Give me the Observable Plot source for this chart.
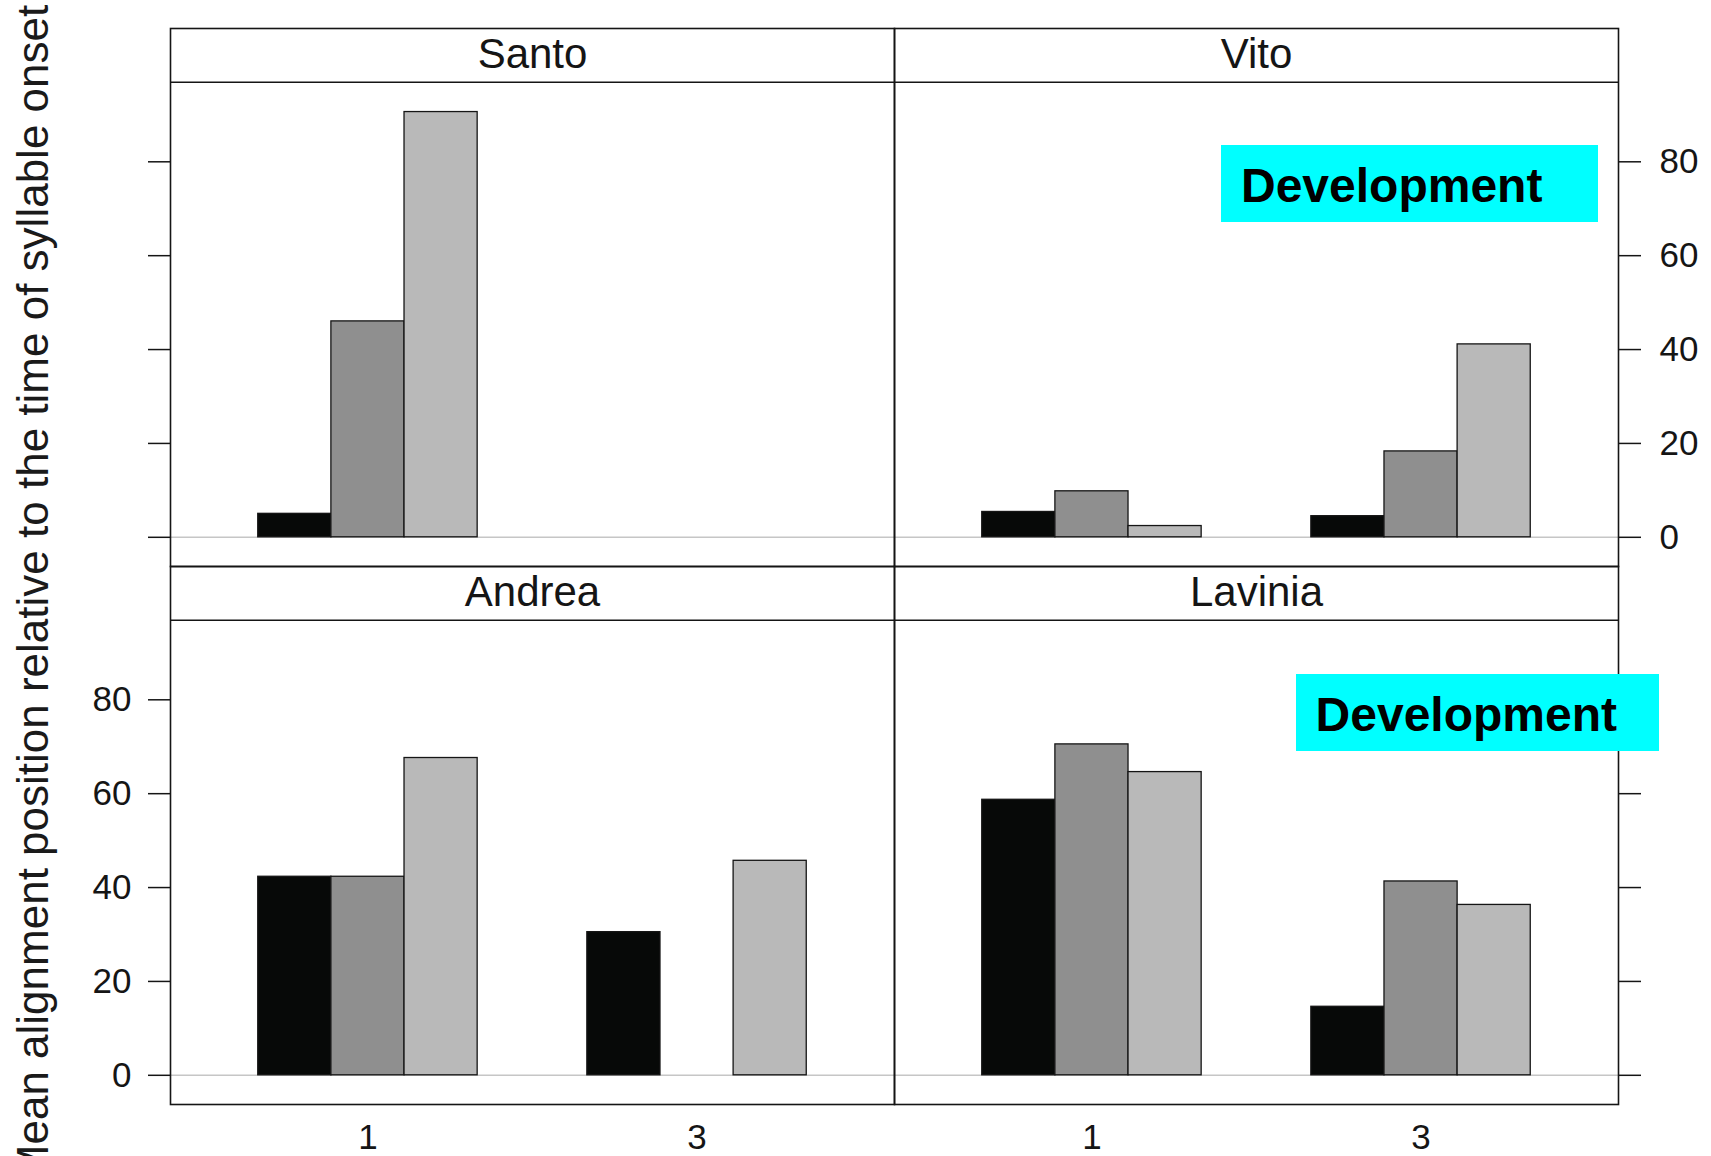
<!DOCTYPE html>
<html><head><meta charset="utf-8">
<script src="https://cdn.jsdelivr.net/npm/d3@7"></script>
<script src="https://cdn.jsdelivr.net/npm/@observablehq/plot@0.6"></script>
<style>
body{margin:0;background:#fff;}
#wrap{position:relative;width:1711px;height:1156px;overflow:hidden;font-family:"Liberation Sans",Arial,Helvetica,sans-serif;background:#fff;}
#wrap svg{position:absolute;left:0;top:0;}
.ylab{position:absolute;left:33px;top:593px;transform:translate(-50%,-50%) rotate(-90deg);white-space:nowrap;font-size:44px;line-height:44px;color:#1a1a1a;}
.dev{position:absolute;background:#00ffff;font-weight:bold;font-size:48px;line-height:73px;height:77px;box-sizing:border-box;padding-top:4px;color:#000;white-space:nowrap;}
</style></head>
<body><div id="wrap"></div>
<script>
// ---- data ----
const speakers = ["Santo", "Vito", "Andrea", "Lavinia"];
const categories = ["1", "3"];
const series = ["A", "B", "C"];
const valuesCat1 = [[5.0, 46.0, 90.6], [5.4, 9.8, 2.4], [42.3, 42.3, 67.6], [58.7, 70.5, 64.6]];
const valuesCat3 = [[null, null, null], [4.5, 18.3, 41.1], [30.5, null, 45.7], [14.6, 41.3, 36.3]];
const yTicks = [0, 20, 40, 60, 80];
const yTitle = "Mean alignment position relative to the time of syllable onset";
const annotation = "Development";
const annotatedPanels = ["Vito", "Lavinia"];

// ---- derived tables ----
const colOf = i => "c" + (i % 2);
const rowOf = i => "r" + Math.floor(i / 2);
const panels = speakers.map((name, i) => ({name, col: colOf(i), row: rowOf(i)}));
const groupWidth = 2 / 3;            // lattice box.ratio = 2
const barW = groupWidth / series.length;
const bars = [];
speakers.forEach((name, i) => {
  [valuesCat1[i], valuesCat3[i]].forEach((vals, j) => {
    vals.forEach((v, k) => {
      if (v == null) return;
      const x1 = (j + 1) - groupWidth / 2 + k * barW;
      bars.push({name, col: colOf(i), row: rowOf(i), series: series[k], x1, x2: x1 + barW, value: v});
    });
  });
});
const panelBy = n => panels.find(p => p.name === n);
const leftLabels = yTicks.map(v => ({...panelBy("Andrea"), v}));
const rightLabels = yTicks.map(v => ({...panelBy("Vito"), v}));

// y domain includes the strip band at the top of each facet
const YMIN = -6.22, YMAX = 108.4, STRIP = 96.95;

const ink = "#151515";
const chart = Plot.plot({
  width: 1711, height: 1156,
  marginLeft: 169.5, marginRight: 93.5, marginTop: 27.5, marginBottom: 52.5,
  fx: {domain: ["c0", "c1"], padding: 0, axis: null},
  fy: {domain: ["r0", "r1"], padding: 0, axis: null},
  x: {domain: [0.4, 2.6], label: null},
  y: {domain: [YMIN, YMAX], label: null},
  color: {domain: series, range: ["#070908", "#8f8f8f", "#b9b9b9"]},
  style: {fontFamily: "'Liberation Sans', Arial, Helvetica, sans-serif", background: "white", color: ink},
  marks: [
    Plot.ruleY([0], {stroke: "#c6c6c6", strokeWidth: 1.6}),
    Plot.rect(bars, {fx: "col", fy: "row", x1: "x1", x2: "x2", y1: 0, y2: "value", fill: "series", stroke: ink, strokeWidth: 1.3}),
    Plot.frame({stroke: ink, strokeWidth: 1.6}),
    Plot.ruleY([STRIP], {stroke: ink, strokeWidth: 1.6}),
    Plot.text(panels, {fx: "col", fy: "row", text: "name", frameAnchor: "top", lineAnchor: "middle", dy: 26, fontSize: 42, fill: ink}),
    Plot.axisY(yTicks, {anchor: "left", facetAnchor: "left", tickSize: 22, tickFormat: () => "", stroke: ink, strokeWidth: 1.5, label: null}),
    Plot.axisY(yTicks, {anchor: "right", facetAnchor: "right", tickSize: 22, tickFormat: () => "", stroke: ink, strokeWidth: 1.5, label: null}),
    Plot.text(leftLabels, {fx: "col", fy: "row", y: "v", text: d => String(d.v), frameAnchor: "left", textAnchor: "end", dx: -39, fontSize: 35, fill: ink}),
    Plot.text(rightLabels, {fx: "col", fy: "row", y: "v", text: d => String(d.v), frameAnchor: "right", textAnchor: "start", dx: 41, fontSize: 35, fill: ink}),
    Plot.axisX([1, 2], {anchor: "bottom", facetAnchor: "bottom", tickFormat: d => categories[d - 1], tickSize: 0, tickPadding: 20, fontSize: 35, fill: ink, label: null})
  ]
});
const wrap = document.getElementById("wrap");
wrap.appendChild(chart);

const yl = document.createElement("div");
yl.className = "ylab";
yl.textContent = yTitle;
wrap.appendChild(yl);

const devBoxes = [{left: 1220.7, top: 145, width: 377, pad: 20.3}, {left: 1296, top: 674, width: 363, pad: 19.6}];
annotatedPanels.forEach((p, i) => {
  const b = devBoxes[i];
  const d = document.createElement("div");
  d.className = "dev";
  d.style.left = b.left + "px"; d.style.top = b.top + "px"; d.style.width = b.width + "px";
  d.style.paddingLeft = b.pad + "px";
  d.textContent = annotation;
  wrap.appendChild(d);
});
</script>
</body></html>
